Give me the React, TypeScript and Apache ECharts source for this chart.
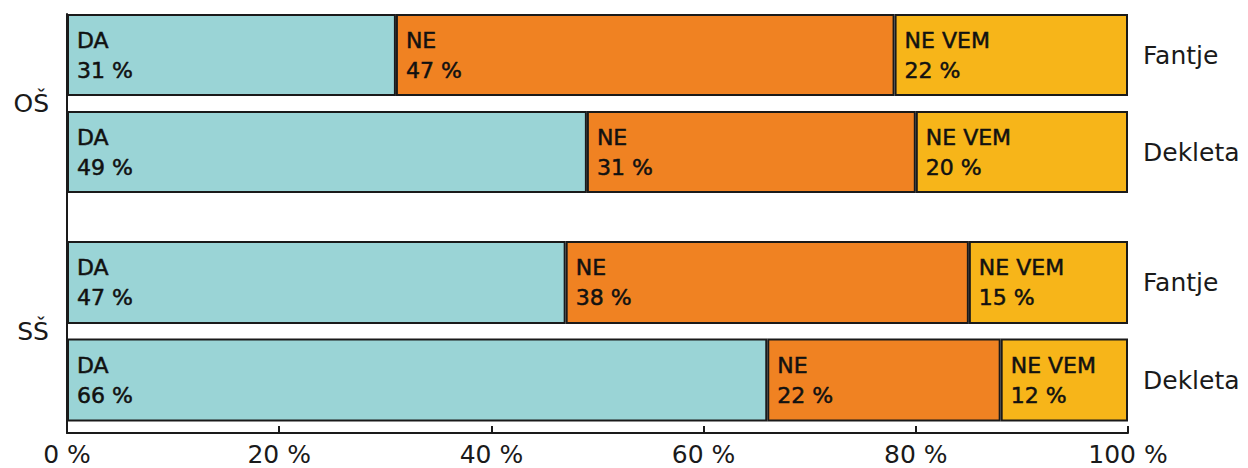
import React, { useEffect, useRef } from "react";
import * as echarts from "echarts";

const groups = ["OŠ", "SŠ"];
const rows = ["Fantje", "Dekleta"];
const answers = ["DA", "NE", "NE VEM"];
// values per group: [Fantje, Dekleta]
const osDA = [31, 49];
const osNE = [47, 31];
const osNEVEM = [22, 20];
const ssDA = [47, 66];
const ssNE = [38, 22];
const ssNEVEM = [15, 12];
const xTicks = [0, 20, 40, 60, 80, 100];

const colors = ["#9AD4D6", "#F08222", "#F7B519"];
const FONT = "'DejaVu Sans', 'Noto Sans', sans-serif";
const INK = "#1a1a1a";

export default function App() {
  const ref = useRef<HTMLDivElement>(null);
  useEffect(() => {
    document.body.style.margin = "0";
    if (!ref.current) return;
    const chart = echarts.init(ref.current, null, { renderer: "svg" });
    const gridLeft = 67;
    const gridRight = 120;
    const grids = [
      { left: gridLeft, right: gridRight, top: 14, bottom: 35 },
      { left: gridLeft, right: gridRight, top: 6.5, height: 194 },
      { left: gridLeft, right: gridRight, top: 233.75, height: 195 },
    ];
    const xAxes: any[] = [
      {
        gridIndex: 0,
        type: "value",
        min: xTicks[0],
        max: xTicks[xTicks.length - 1],
        interval: 20,
        axisLine: { show: true, lineStyle: { color: INK, width: 2 } },
        axisTick: { show: true, inside: true, length: 7, lineStyle: { color: INK, width: 2 } },
        splitLine: { show: false },
        axisLabel: { formatter: "{value} %", fontSize: 25, color: INK, fontFamily: FONT, margin: 9 },
      },
      { gridIndex: 1, type: "value", min: 0, max: 100, show: false },
      { gridIndex: 2, type: "value", min: 0, max: 100, show: false },
    ];
    const yAxes: any[] = [
      {
        gridIndex: 0,
        type: "value",
        min: 0,
        max: 1,
        axisLine: { show: true, lineStyle: { color: INK, width: 2 } },
        axisTick: { show: false },
        axisLabel: { show: false },
        splitLine: { show: false },
      },
    ];
    const series: any[] = [];
    const data = [
      [osDA, osNE, osNEVEM],
      [ssDA, ssNE, ssNEVEM],
    ];
    groups.forEach((g, gi) => {
      const grid = gi + 1;
      yAxes.push({
        gridIndex: grid,
        type: "category",
        data: rows,
        inverse: true,
        position: "right",
        axisLine: { show: false },
        axisTick: { show: false },
        axisLabel: { fontSize: 25, color: INK, fontFamily: FONT, margin: 15 },
      });
      yAxes.push({
        gridIndex: grid,
        type: "category",
        data: [g],
        position: "left",
        axisLine: { show: false },
        axisTick: { show: false },
        axisLabel: { fontSize: 25, color: INK, fontFamily: FONT, margin: 18 },
      });
      const yIdx = yAxes.length - 2;
      answers.forEach((a, ai) => {
        series.push({
          type: "bar",
          name: a,
          stack: "s" + gi,
          xAxisIndex: grid,
          yAxisIndex: yIdx,
          barWidth: gi === 0 ? 82 : 83,
          data: data[gi][ai],
          itemStyle: { color: colors[ai], borderColor: INK, borderWidth: 2 },
          label: {
            show: true,
            position: "insideLeft",
            distance: 10,
            formatter: (p: any) => `${a}\n${p.value} %`,
            fontSize: 22,
            lineHeight: 30,
            color: "#111",
            textBorderColor: "#111",
            textBorderWidth: 0.5,
            fontFamily: FONT,
          },
        });
      });
    });
    chart.setOption({
      animation: false,
      grid: grids,
      xAxis: xAxes,
      yAxis: yAxes,
      series,
    });
    return () => chart.dispose();
  }, []);
  return <div ref={ref} style={{ width: 1248, height: 468 }} />;
}
